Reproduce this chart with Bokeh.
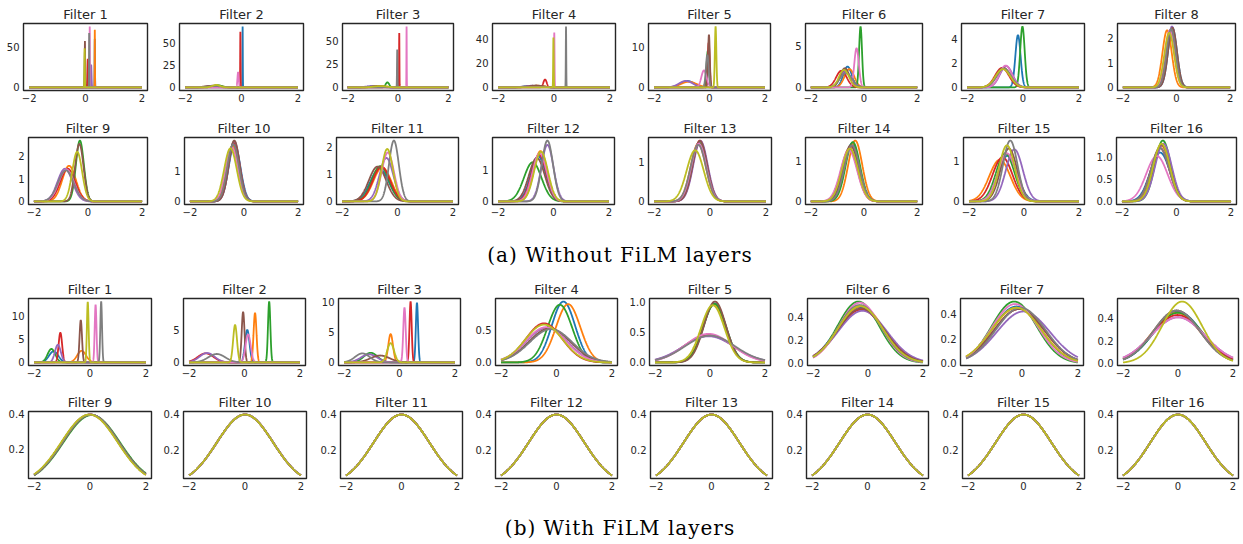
import numpy as np
from bokeh.plotting import figure
from bokeh.layouts import column, row
from bokeh.models import Range1d, FixedTicker, Div
from bokeh.embed import file_html
from bokeh.resources import INLINE

# ---------------- data ----------------
SERIES_COLORS = ["#1f77b4", "#ff7f0e", "#2ca02c", "#d62728", "#9467bd",
                 "#8c564b", "#e377c2", "#7f7f7f", "#bcbd22"]
FILTER_NAMES = ["Filter %d" % i for i in range(1, 17)]
CAPTIONS = ["(a) Without FiLM layers", "(b) With FiLM layers"]
X_TICKS = [-2, 0, 2]
X_TICK_LABELS = ["\u22122", "0", "2"]

# means of the 9 fitted distributions per filter (blue, orange, green, red, purple, brown, pink, gray, olive)
MEAN_NO_FILM = [
    [0.33, 0.33, -0.02, 0.08, 0.20, -0.02, 0.15, 0.13, -0.03],
    [0.04, -0.90, -0.85, -0.04, -1.00, -1.10, -0.12, -0.95, -0.90],
    [-0.90, -0.70, -0.42, 0.05, -1.00, -0.80, 0.34, -0.03, -0.70],
    [-0.70, -0.60, -0.75, -0.32, -0.80, -0.65, 0.01, 0.43, -0.02],
    [-0.80, -0.75, -0.06, -0.03, -0.85, -0.02, -0.20, -0.08, 0.22],
    [-0.62, -0.55, -0.13, -0.85, -0.70, -0.72, -0.28, -0.68, -0.75],
    [-0.18, -0.70, -0.02, -0.75, -0.60, -0.70, -0.62, -0.68, -0.72],
    [-0.15, -0.35, -0.22, -0.20, -0.17, -0.15, -0.25, -0.20, -0.27],
    [-0.80, -0.70, -0.30, -0.75, -0.85, -0.32, -0.80, -0.82, -0.40],
    [-0.35, -0.42, -0.38, -0.37, -0.36, -0.36, -0.45, -0.40, -0.50],
    [-0.65, -0.55, -0.62, -0.58, -0.40, -0.72, -0.35, -0.13, -0.37],
    [-0.55, -0.47, -0.75, -0.52, -0.22, -0.60, -0.50, -0.22, -0.45],
    [-0.40, -0.42, -0.38, -0.36, -0.34, -0.36, -0.40, -0.42, -0.53],
    [-0.45, -0.33, -0.42, -0.55, -0.48, -0.50, -0.57, -0.45, -0.53],
    [-0.60, -0.88, -0.68, -0.78, -0.35, -0.55, -0.62, -0.50, -0.62],
    [-0.60, -0.55, -0.50, -0.60, -0.48, -0.55, -0.72, -0.60, -0.55],
]
# peak heights of the densities
PEAK_NO_FILM = [
    [60, 71, 45, 35, 28, 57, 75, 67, 48],
    [68, 1.8, 2.5, 62, 2.0, 1.8, 17, 1.5, 2.8],
    [1.3, 1.5, 5.5, 59, 1.4, 1.6, 66, 41, 1.5],
    [1.3, 1.4, 1.3, 6.5, 1.4, 1.6, 45, 50, 41],
    [1.6, 1.4, 9.0, 11, 1.6, 13, 4.2, 8.0, 15],
    [2.5, 2.2, 7.3, 2.0, 1.9, 2.3, 4.7, 1.7, 2.1],
    [4.3, 1.6, 5.0, 1.6, 1.75, 1.6, 1.8, 1.55, 1.5],
    [2.4, 2.3, 2.3, 2.35, 2.45, 2.4, 2.3, 2.35, 2.2],
    [1.4, 1.58, 2.7, 1.45, 1.45, 2.55, 1.42, 1.38, 2.2],
    [1.85, 1.8, 1.9, 1.9, 1.95, 1.97, 1.75, 1.85, 1.72],
    [1.2, 1.25, 1.3, 1.28, 1.6, 1.28, 1.8, 2.24, 1.93],
    [1.45, 1.62, 1.26, 1.5, 1.82, 1.4, 1.55, 1.96, 1.6],
    [1.5, 1.48, 1.5, 1.56, 1.55, 1.55, 1.48, 1.45, 1.31],
    [1.45, 1.52, 1.48, 1.32, 1.38, 1.4, 1.28, 1.4, 1.32],
    [1.14, 1.04, 1.2, 1.1, 1.3, 1.32, 1.2, 1.52, 1.4],
    [1.1, 1.25, 1.37, 1.2, 1.3, 1.28, 1.02, 1.2, 1.3],
]
YTICKS_NO_FILM = [[0, 50], [0, 25, 50], [0, 25, 50], [0, 20, 40], [0, 10], [0, 5], [0, 2, 4], [0, 1, 2],
                  [0, 1, 2], [0, 1], [0, 1, 2], [0, 1], [0, 1], [0, 1], [0, 1], [0, 0.5, 1.0]]
YLABELS_NO_FILM = [["0", "50"], ["0", "25", "50"], ["0", "25", "50"], ["0", "20", "40"], ["0", "10"],
                   ["0", "5"], ["0", "2", "4"], ["0", "1", "2"], ["0", "1", "2"], ["0", "1"],
                   ["0", "1", "2"], ["0", "1"], ["0", "1"], ["0", "1"], ["0", "1"], ["0.0", "0.5", "1.0"]]

MEAN_FILM = [
    [-1.30, -0.30, -1.38, -1.06, -1.15, -0.33, 0.20, 0.40, -0.08],
    [0.10, 0.38, 0.89, -1.40, -1.35, -0.05, 0.13, -1.00, -0.34],
    [0.63, -0.32, -1.04, 0.40, -1.10, -0.70, 0.18, -1.34, -0.32],
    [0.25, 0.42, 0.12, -0.45, -0.35, -0.25, -0.38, -0.20, -0.45],
    [0.17, 0.15, 0.17, -0.05, -0.05, 0.18, -0.05, 0.00, 0.10],
    [-0.30, -0.25, -0.35, -0.25, -0.20, -0.25, -0.30, -0.30, -0.28],
    [-0.20, -0.20, -0.28, -0.10, 0.05, -0.10, -0.25, -0.05, -0.20],
    [0.00, -0.05, 0.00, -0.02, 0.00, -0.05, 0.00, -0.05, 0.15],
    [0.00, 0.00, 0.06, 0.00, 0.02, 0.03, 0.00, 0.02, -0.02],
    [0.00, 0.00, 0.00, 0.00, 0.01, 0.00, 0.00, 0.00, 0.00],
    [0.00, 0.00, 0.00, 0.00, 0.00, 0.00, 0.00, 0.00, 0.00],
    [0.00, 0.00, 0.00, 0.00, 0.00, 0.00, 0.00, 0.00, 0.00],
    [0.00, 0.00, 0.00, 0.00, 0.00, 0.00, 0.00, 0.00, 0.00],
    [0.00, 0.00, 0.00, 0.00, 0.00, 0.00, 0.00, 0.00, 0.00],
    [0.00, 0.00, 0.00, 0.00, 0.00, 0.00, 0.00, 0.00, 0.00],
    [0.00, 0.00, 0.00, 0.00, 0.00, 0.00, 0.00, 0.00, 0.00],
]
PEAK_FILM = [
    [2.4, 2.5, 2.9, 6.4, 3.8, 9.1, 12.4, 13.1, 13.0],
    [5.0, 7.6, 9.35, 1.4, 1.45, 7.75, 4.3, 1.3, 5.75],
    [9.9, 4.7, 1.6, 10.1, 1.35, 1.15, 9.1, 1.5, 3.2],
    [0.95, 0.91, 0.90, 0.61, 0.54, 0.53, 0.55, 0.52, 0.59],
    [0.97, 0.95, 0.96, 0.45, 0.43, 1.00, 0.47, 0.44, 0.94],
    [0.48, 0.49, 0.53, 0.46, 0.45, 0.47, 0.52, 0.50, 0.49],
    [0.46, 0.45, 0.50, 0.44, 0.42, 0.44, 0.48, 0.45, 0.45],
    [0.46, 0.45, 0.45, 0.43, 0.41, 0.47, 0.41, 0.47, 0.55],
    [0.399, 0.399, 0.396, 0.399, 0.399, 0.398, 0.399, 0.399, 0.399],
    [0.399, 0.399, 0.399, 0.399, 0.399, 0.399, 0.399, 0.399, 0.399],
    [0.399, 0.399, 0.399, 0.399, 0.399, 0.399, 0.399, 0.399, 0.399],
    [0.399, 0.399, 0.399, 0.399, 0.399, 0.399, 0.399, 0.399, 0.399],
    [0.399, 0.399, 0.399, 0.399, 0.399, 0.399, 0.399, 0.399, 0.399],
    [0.399, 0.399, 0.399, 0.399, 0.399, 0.399, 0.399, 0.399, 0.399],
    [0.399, 0.399, 0.399, 0.399, 0.399, 0.399, 0.399, 0.399, 0.399],
    [0.399, 0.399, 0.399, 0.399, 0.399, 0.399, 0.399, 0.399, 0.399],
]
YTICKS_FILM = [[0, 5, 10], [0, 5], [0, 5, 10], [0.0, 0.5], [0.0, 0.5, 1.0], [0.0, 0.2, 0.4],
               [0.0, 0.2, 0.4], [0.0, 0.2, 0.4]] + [[0.2, 0.4]] * 8
YLABELS_FILM = [["0", "5", "10"], ["0", "5"], ["0", "5", "10"], ["0.0", "0.5"], ["0.0", "0.5", "1.0"],
                ["0.0", "0.2", "0.4"], ["0.0", "0.2", "0.4"], ["0.0", "0.2", "0.4"]] + [["0.2", "0.4"]] * 8

# ---------------- layout constants (page pixels) ----------------
FRAME_L = [[23, 179, 342, 492, 648, 805, 961, 1117],
           [28, 184, 336, 492, 648, 805, 963, 1116],
           [28, 183, 338, 495, 649, 807, 960, 1117],
           [28, 183, 340, 495, 650, 806, 962, 1117]]
FRAME_R = [[147, 303, 453, 615, 770, 922, 1084, 1235],
           [147, 303, 458, 614, 771, 922, 1084, 1236],
           [151, 305, 460, 617, 770, 928, 1083, 1238],
           [151, 306, 462, 617, 772, 928, 1084, 1238]]
FRAME_H = 67
TOP = 23
BOTTOM = [24, 22, 23, 24]
CAPTION_H = [49, 40]
CAPTION_PAD = [16, 13]
PAGE_W = 1240
TEXT_COLOR = "#262626"


def density(mu, peak):
    sigma = 1.0 / (peak * np.sqrt(2 * np.pi))
    xs = np.union1d(np.linspace(-2, 2, 401), np.clip(mu + sigma * np.linspace(-6, 6, 121), -2, 2))
    ys = peak * np.exp(-0.5 * ((xs - mu) / sigma) ** 2)
    return xs, ys


def make_panel(idx, mus, peaks, yticks, ylabels, rr, k):
    curves = [density(m, h) for m, h in zip(mus, peaks)]
    ymin = min(c[1].min() for c in curves)
    ymax = max(c[1].max() for c in curves)
    pad = 0.05 * (ymax - ymin)
    L, R = FRAME_L[rr][k], FRAME_R[rr][k]
    e0 = 0 if k == 0 else FRAME_R[rr][k - 1] + 2
    e1 = FRAME_R[rr][k] + 2
    p = figure(width=e1 - e0, height=TOP + FRAME_H + BOTTOM[rr],
               x_range=Range1d(-2.2, 2.2), y_range=Range1d(ymin - pad, ymax + pad),
               output_backend="svg", toolbar_location=None, title=FILTER_NAMES[idx],
               min_border_left=L - e0, min_border_right=e1 - R,
               min_border_top=TOP, min_border_bottom=BOTTOM[rr], frame_align=False)
    p.title.align = "center"
    p.title.text_font = "DejaVu Sans"
    p.title.text_font_size = "13px"
    p.title.text_font_style = "normal"
    p.title.text_color = TEXT_COLOR
    p.title.standoff = 3
    p.title.offset = 0
    for (xs, ys), c in zip(curves, SERIES_COLORS):
        p.line(xs, ys, line_color=c, line_width=1.8)
    p.xaxis.ticker = FixedTicker(ticks=X_TICKS)
    p.xaxis.major_label_overrides = {t: l for t, l in zip(X_TICKS, X_TICK_LABELS)}
    p.yaxis.ticker = FixedTicker(ticks=yticks)
    p.yaxis.major_label_overrides = {t: l for t, l in zip(yticks, ylabels)}
    for ax in (p.xaxis[0], p.yaxis[0]):
        ax.axis_line_color = None
        ax.major_tick_line_color = None
        ax.minor_tick_line_color = None
        ax.major_tick_out = 0
        ax.major_tick_in = 0
        ax.major_label_text_font = "DejaVu Sans"
        ax.major_label_text_font_size = "10px"
        ax.major_label_text_color = TEXT_COLOR
    p.xaxis.major_label_standoff = 3
    p.yaxis.major_label_standoff = 4
    p.grid.visible = False
    p.outline_line_color = TEXT_COLOR
    p.outline_line_width = 1.4
    p.background_fill_color = "white"
    p.border_fill_color = "white"
    return p


def caption(text, h, top_pad):
    html = ('<div style="width:%dpx;height:%dpx;padding-top:%dpx;box-sizing:border-box;'
            'text-align:center;font-family:\'DejaVu Serif\';font-size:20px;letter-spacing:1px;'
            'line-height:26px;color:#000;margin:0;">%s</div>' % (PAGE_W, h, top_pad, text))
    return Div(text=html, width=PAGE_W, height=h, margin=0)


rows = []
for g, (means, peaks, yt, yl) in enumerate([(MEAN_NO_FILM, PEAK_NO_FILM, YTICKS_NO_FILM, YLABELS_NO_FILM),
                                            (MEAN_FILM, PEAK_FILM, YTICKS_FILM, YLABELS_FILM)]):
    for half in range(2):
        rr = g * 2 + half
        figs = []
        for k in range(8):
            idx = half * 8 + k
            figs.append(make_panel(idx, means[idx], peaks[idx], yt[idx], yl[idx], rr, k))
        rows.append(row(*figs, spacing=0))
    rows.append(caption(CAPTIONS[g], CAPTION_H[g], CAPTION_PAD[g]))

layout = column(*rows, spacing=0)
open("out.html", "w").write(file_html(layout, INLINE))
